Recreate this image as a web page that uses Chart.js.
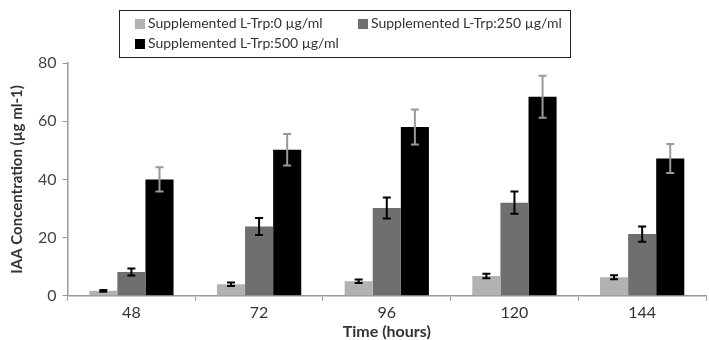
<!DOCTYPE html>
<html>
<head>
    <title></title>
    <script src="https://cdn.jsdelivr.net/npm/chart.js@4/dist/chart.umd.min.js"></script>
    <style>
        body { margin: 0; background: #fff; }
        #wrap { position: relative; width: 709px; height: 340px; }
        #legend {
            position: absolute; left: 119px; top: 10px; width: 452px; height: 48px;
            border: 1.5px solid #222; box-sizing: border-box;
            font-family: Lato, sans-serif; font-size: 14px; color: #333;
        }
        #legend .item { position: absolute; white-space: nowrap; line-height: 18px; }
        #legend .box { display: inline-block; width: 10px; height: 10px; margin-right: 3px; vertical-align: -1px; }
    </style>
</head>
<body>
    <div id="wrap">
        <canvas id="myChart" width="709" height="340"></canvas>
        <div id="legend"></div>
    </div>
    <script>
        var hours = ["48", "72", "96", "120", "144"];
        var trp0 = [1.7, 4.0, 5.0, 6.8, 6.4];
        var trp0Err = [0.3, 0.6, 0.6, 0.8, 0.7];
        var trp250 = [8.2, 23.8, 30.2, 32.0, 21.2];
        var trp250Err = [1.2, 2.9, 3.6, 3.8, 2.6];
        var trp500 = [40.0, 50.2, 58.0, 68.4, 47.2];
        var trp500Err = [4.2, 5.4, 6.0, 7.2, 5.0];
        var names = ["Supplemented L-Trp:0 \u00b5g/ml", "Supplemented L-Trp:250 \u00b5g/ml", "Supplemented L-Trp:500 \u00b5g/ml"];
        var colors = ["#b2b2b2", "#6f6f6f", "#000000"];
        var errColors = ["#000", "#000", "#999"];

        // error bars drawn from the y scale
        var errorBars = {
            id: "errorBars",
            afterDatasetsDraw: function(chart) {
                var ctx = chart.ctx;
                var y = chart.scales.y;
                chart.data.datasets.forEach(function(ds, i) {
                    var meta = chart.getDatasetMeta(i);
                    meta.data.forEach(function(bar, j) {
                        var top = y.getPixelForValue(ds.data[j] + ds.errors[j]);
                        var bot = y.getPixelForValue(ds.data[j] - ds.errors[j]);
                        ctx.save();
                        ctx.strokeStyle = errColors[i];
                        ctx.lineWidth = 2;
                        ctx.beginPath();
                        ctx.moveTo(bar.x, top); ctx.lineTo(bar.x, bot);
                        ctx.moveTo(bar.x - 4, top); ctx.lineTo(bar.x + 4, top);
                        ctx.moveTo(bar.x - 4, bot); ctx.lineTo(bar.x + 4, bot);
                        ctx.stroke();
                        ctx.restore();
                    });
                });
            }
        };

        var chart = new Chart(document.getElementById("myChart"), {
            type: "bar",
            data: {
                labels: hours,
                datasets: [
                    { label: names[0], data: trp0, errors: trp0Err, backgroundColor: colors[0] },
                    { label: names[1], data: trp250, errors: trp250Err, backgroundColor: colors[1] },
                    { label: names[2], data: trp500, errors: trp500Err, backgroundColor: colors[2] }
                ]
            },
            options: {
                responsive: false,
                animation: false,
                layout: { padding: { top: 63, right: 3, left: 8, bottom: 0 } },
                datasets: { bar: { categoryPercentage: 0.66, barPercentage: 1.0 } },
                plugins: { legend: { display: false }, tooltip: { enabled: false } },
                scales: {
                    x: {
                        grid: { display: true, drawOnChartArea: false, tickLength: 5, color: "#999", offset: true },
                        border: { color: "#999", width: 1.5 },
                        ticks: { color: "#333", font: { family: "Lato", size: 16 }, padding: 2 },
                        title: { display: true, text: "Time (hours)", color: "#333", font: { family: "Lato", size: 16, weight: "bold", lineHeight: 1.0 }, padding: { top: 0, bottom: 0 } }
                    },
                    y: {
                        min: 0, max: 80,
                        ticks: { stepSize: 20, color: "#444", font: { family: "Lato", size: 16 }, padding: 6 },
                        grid: { display: true, drawOnChartArea: false, tickLength: 5, color: "#999" },
                        border: { color: "#999", width: 1.5 },
                        title: { display: true, text: "IAA Concentration (\u00b5g ml-1)", color: "#333", font: { family: "Lato", size: 15, weight: "bold" }, padding: { top: 0, bottom: 6 } }
                    }
                }
            },
            plugins: [errorBars]
        });

        // legend laid out like the original two-column box
        var pos = [[15, 3], [238, 3], [15, 23]];
        var legend = document.getElementById("legend");
        chart.data.datasets.forEach(function(ds, i) {
            var d = document.createElement("div");
            d.className = "item";
            d.style.left = pos[i][0] + "px";
            d.style.top = pos[i][1] + "px";
            d.innerHTML = '<span class="box" style="background:' + ds.backgroundColor + '"></span>' + ds.label;
            legend.appendChild(d);
        });
    </script>
</body>
</html>
